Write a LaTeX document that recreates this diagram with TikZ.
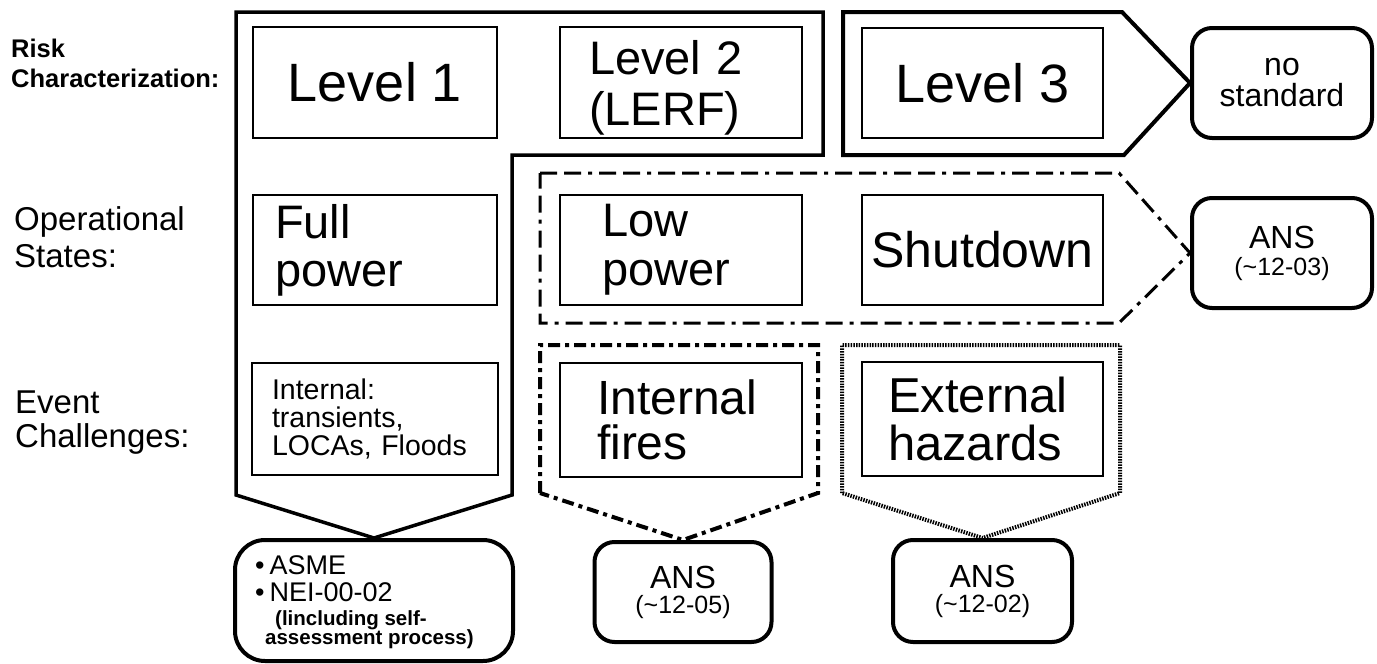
\documentclass[tikz,border=0pt]{standalone}
\usepackage{fontspec}
\setmainfont{Liberation Sans}
\newcommand{\fsz}[2]{\fontsize{#1}{#2}\selectfont}
\begin{document}
\begin{tikzpicture}[x=1pt,y=-1pt,
  sbox/.style={draw, line width=2.5pt, inner sep=0pt, align=center},
  lbox/.style={draw, line width=2.5pt, inner sep=0pt, align=left},
  rbox/.style={draw, line width=4pt, rounded corners=20pt, inner sep=0pt, align=center},
  solidout/.style={line width=3.5pt, line join=miter},
  opout/.style={line width=3pt, dash pattern=on 17pt off 7pt on 17pt off 7pt on 4pt off 7pt},
  fireout/.style={line width=4pt, dash pattern=on 12pt off 5pt on 4pt off 5pt},
  extout/.style={line width=4pt, dash pattern=on 1.5pt off 1.2pt},
  lab/.style={anchor=base west, inner sep=0pt}]
\useasboundingbox (0,0) rectangle (1377,664);

% row labels
\node[lab, font=\bfseries\fsz{25.5}{30}] (riskA) at (11,57) {Risk};
\node[lab, font=\bfseries\fsz{25.5}{30}] (riskB) at (11,87) {Characterization:};
\node[lab, font=\fsz{33}{35}] (opA) at (14,230) {Operational};
\node[lab, font=\fsz{33}{35}] (opB) at (14,267) {States:};
\node[lab, font=\fsz{33}{35}] (evA) at (15,413) {Event};
\node[lab, font=\fsz{33}{35}] (evB) at (15,447) {Challenges:};

% risk characterization row
\node[sbox, minimum width=244pt, minimum height=111pt, font=\fsz{54}{58}] (lvl1) at (375,82.5) {Level 1};
\node[lbox, minimum width=242pt, minimum height=111pt, text width=184pt, font=\fsz{47}{51}] (lvl2) at (681,82.5) {\rule{0pt}{44pt}Level 2\\(LERF)};
\node[sbox, minimum width=241pt, minimum height=110pt, font=\fsz{54}{58}] (lvl3) at (982.5,83) {Level 3};
\node[rbox, minimum width=180pt, minimum height=110pt, font=\fsz{32}{31}] (nostd) at (1282,83) {no\\standard};

% operational states row
\node[lbox, minimum width=244pt, minimum height=110pt, text width=200pt, font=\fsz{47}{48}] (full) at (375,250) {Full\\power};
\node[lbox, minimum width=242pt, minimum height=110pt, text width=158pt, font=\fsz{47}{49}] (low) at (681,250) {Low\\power};
\node[sbox, minimum width=241pt, minimum height=110pt, font=\fsz{50}{55}] (shut) at (982.5,250) {Shutdown};
\node[rbox, minimum width=180pt, minimum height=110pt, font=\fsz{32}{27}] (ans03) at (1282,253) {ANS\\{\fsz{25}{27}(\textasciitilde 12-03)}};

% event challenges row
\node[lbox, minimum width=246pt, minimum height=112pt, text width=206pt, font=\fsz{28.5}{28}] (intl) at (375,419) {Internal:\\transients,\\LOCAs, Floods};
\node[lbox, minimum width=242pt, minimum height=114pt, text width=168pt, font=\fsz{48}{45}] (fires) at (681,420) {Internal\\fires};
\node[lbox, minimum width=241pt, minimum height=114pt, text width=189pt, font=\fsz{49}{48}] (ext) at (982.5,419) {External\\hazards};

% standards boxes at the bottom
\node[rbox, rounded corners=30pt, minimum width=278pt, minimum height=121pt] (asme) at (374,600.5) {};
\node[lab, font=\fsz{27}{30}] (asmeA) at (255,574) {\textbullet\kern5pt ASME};
\node[lab, font=\fsz{27}{30}] (asmeB) at (255,601) {\textbullet\kern5pt NEI-00-02};
\node[lab, font=\bfseries\fsz{20.5}{18}] (asmeC) at (275,625) {(lincluding self-};
\node[lab, font=\bfseries\fsz{20.5}{18}] (asmeD) at (265,644) {assessment process)};
\node[rbox, minimum width=177pt, minimum height=100pt, font=\fsz{32}{25}] (ans05) at (683,592) {ANS\\{\fsz{25}{25}(\textasciitilde 12-05)}};
\node[rbox, minimum width=179pt, minimum height=102pt, font=\fsz{32}{25}] (ans02) at (982.5,591) {ANS\\{\fsz{25}{25}(\textasciitilde 12-02)}};

% scope outlines
\draw[solidout] (236,12) -- (823,12) -- (823,155) -- (512,155) -- (512,495) -- (asme.north) -- (236,495) -- cycle;
\draw[solidout, line width=4pt] (843,12) -- (1122,12) -- (nostd.west) -- (1124,155) -- (843,155) -- cycle;
\draw[opout] (540,173) -- (1119,173) -- (ans03.west) -- (1119,323) -- (540,323) -- cycle;
\draw[fireout] (540,493) -- (540,345) -- (818,345) -- (818,493) -- (ans05.north) -- cycle;
\draw[extout] (842,493) -- (842,345) -- (1120,345) -- (1120,493) -- (ans02.north) -- cycle;
\end{tikzpicture}
\end{document}
